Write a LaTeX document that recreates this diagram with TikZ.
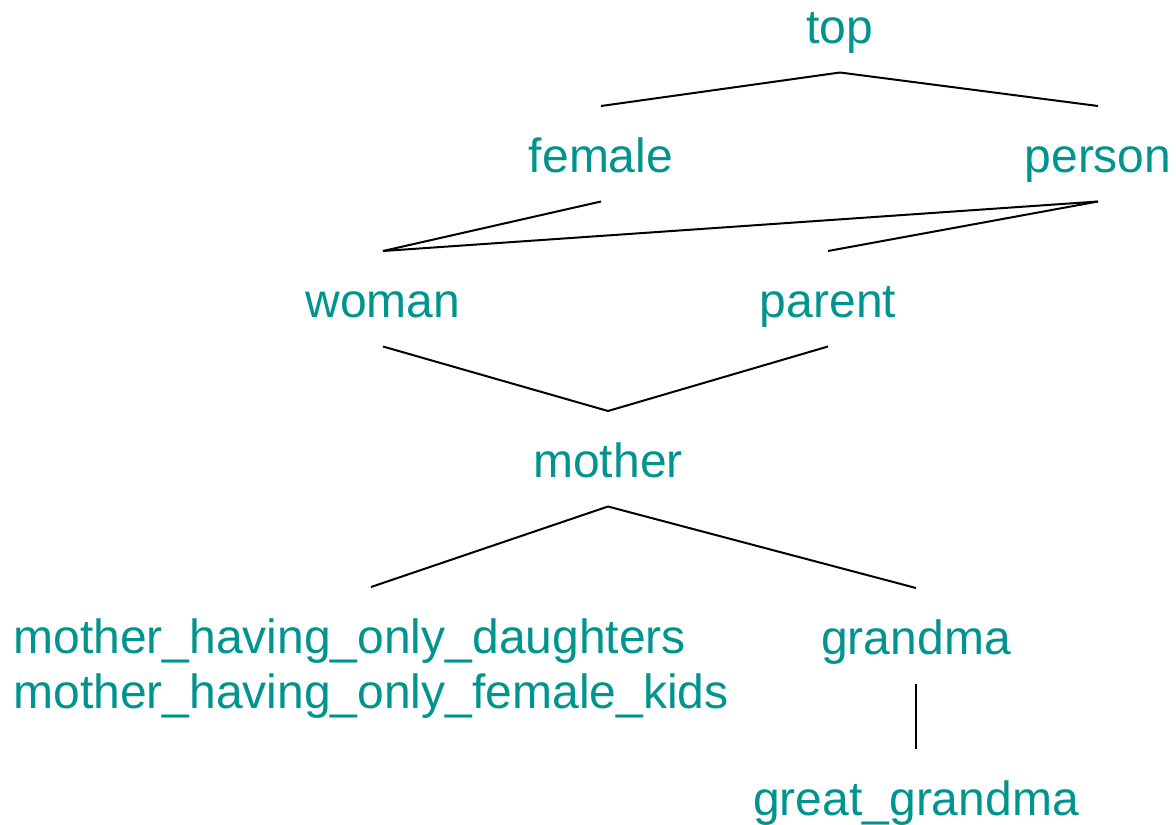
\documentclass[tikz,border=0pt]{standalone}
\usepackage{fontspec}
\setmainfont{Liberation Sans}
\definecolor{labelteal}{RGB}{0,148,143}
\tikzset{
  lbl/.style={text=labelteal, font=\fontsize{48}{55}\selectfont, inner sep=0pt, anchor=base},
  edge/.style={draw=black, line width=2pt}
}
% connector from the underside of one label to the top of the next
\newcommand\treeedge[2]{\draw[edge] ([yshift=-29.5pt]#1.base) -- ([yshift=66pt]#2.base);}
\begin{document}
\begin{tikzpicture}[x=1pt,y=-1pt]
  \useasboundingbox (0,0) rectangle (1176,825);

  \node[lbl] (top)    at (840,43)   {top};
  \node[lbl] (female) at (601,172)  {female};
  \node[lbl] (person) at (1098,172) {person};
  \node[lbl] (woman)  at (383,317)  {woman};
  \node[lbl] (parent) at (828,317)  {parent};
  \node[lbl] (mother) at (608,477)  {mother};
  \node[lbl] (mhod)   at (371,653)
    {\begin{tabular}[t]{@{}l@{}}mother\_having\_only\_daughters\\mother\_having\_only\_female\_kids\end{tabular}};
  \node[lbl] (grandma) at (916,654) {grandma};
  \node[lbl] (ggrandma) at (916,815) {great\_grandma};

  \treeedge{top}{female}
  \treeedge{top}{person}
  \treeedge{female}{woman}
  \treeedge{person}{woman}
  \treeedge{person}{parent}
  \treeedge{woman}{mother}
  \treeedge{parent}{mother}
  \treeedge{mother}{mhod}
  \treeedge{mother}{grandma}
  \treeedge{grandma}{ggrandma}
\end{tikzpicture}
\end{document}
